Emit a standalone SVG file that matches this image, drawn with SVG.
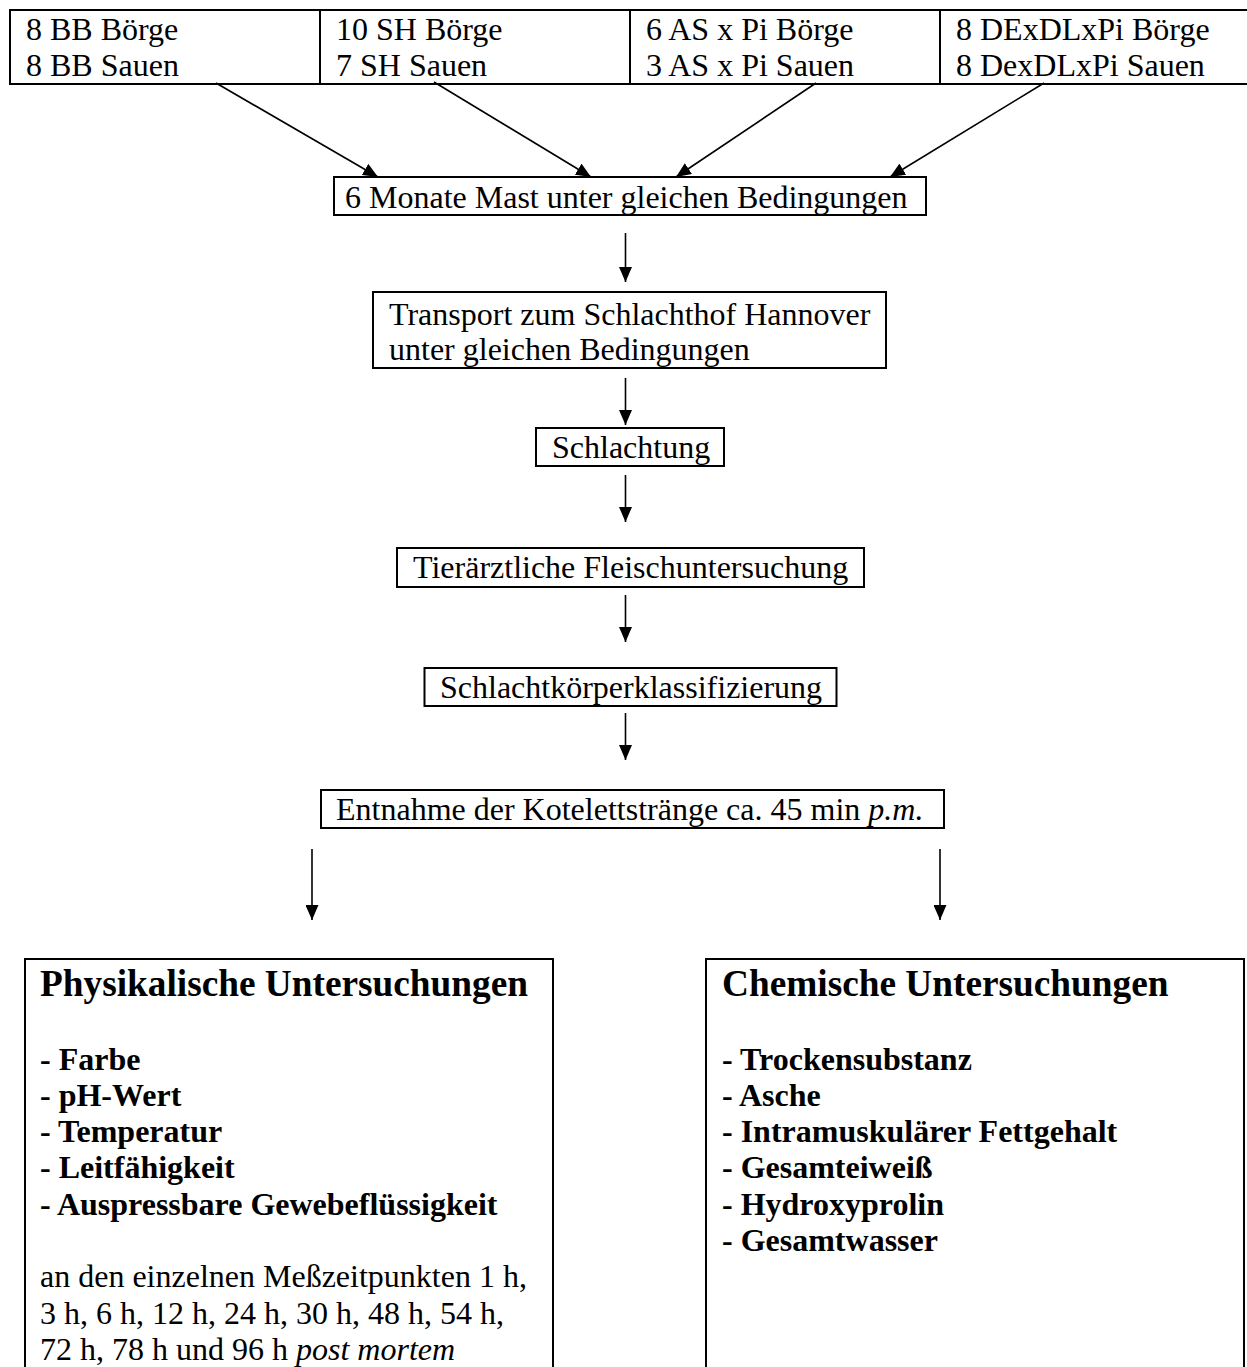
<svg xmlns="http://www.w3.org/2000/svg" width="1247" height="1367" viewBox="0 0 1247 1367">
  <style>
    text { font-family: "Liberation Serif", "Times New Roman", serif; font-size: 32px; fill: #000; }
    .box { fill: #fff; stroke: #000; stroke-width: 2; }
    .b { font-weight: bold; }
    .h { font-weight: bold; font-size: 37.3px; }
    .i { font-style: italic; }
    .conn { stroke: #000; stroke-width: 1.6; fill: none; marker-end: url(#arr); }
  </style>
  <defs>
    <marker id="arr" viewBox="0 0 15 13" refX="15" refY="6.5" markerWidth="15" markerHeight="13" orient="auto" markerUnits="userSpaceOnUse">
      <path d="M0,0 L15,6.5 L0,13 z" fill="#000"/>
    </marker>
  </defs>
  <rect x="0" y="0" width="1247" height="1367" fill="#fff"/>

  <g id="src-bb">
    <rect class="box" x="10" y="10" width="310" height="74"/>
    <text x="26" y="39.5">8 BB Börge</text>
    <text x="26" y="75.5">8 BB Sauen</text>
  </g>
  <g id="src-sh">
    <rect class="box" x="320" y="10" width="310" height="74"/>
    <text x="336" y="39.5">10 SH Börge</text>
    <text x="336" y="75.5">7 SH Sauen</text>
  </g>
  <g id="src-as">
    <rect class="box" x="630" y="10" width="310" height="74"/>
    <text x="646" y="39.5">6 AS x Pi Börge</text>
    <text x="646" y="75.5">3 AS x Pi Sauen</text>
  </g>
  <g id="src-de">
    <rect class="box" x="940" y="10" width="320" height="74"/>
    <text x="956" y="39.5">8 DExDLxPi Börge</text>
    <text x="956" y="75.5">8 DexDLxPi Sauen</text>
  </g>

  <g id="mast">
    <rect class="box" x="334" y="177" width="592" height="38"/>
    <text x="345" y="207.5">6 Monate Mast unter gleichen Bedingungen</text>
  </g>
  <g id="transport">
    <rect class="box" x="373" y="292" width="513" height="76"/>
    <text x="389" y="324.5">Transport zum Schlachthof Hannover</text>
    <text x="389" y="359.5">unter gleichen Bedingungen</text>
  </g>
  <g id="schlachtung">
    <rect class="box" x="536" y="428" width="188" height="38"/>
    <text x="552" y="458">Schlachtung</text>
  </g>
  <g id="fleischuntersuchung">
    <rect class="box" x="397" y="548" width="467" height="39"/>
    <text x="413" y="578">Tierärztliche Fleischuntersuchung</text>
  </g>
  <g id="klassifizierung">
    <rect class="box" x="424.5" y="668" width="412" height="38"/>
    <text x="440" y="698">Schlachtkörperklassifizierung</text>
  </g>
  <g id="entnahme">
    <rect class="box" x="321" y="790" width="623" height="38"/>
    <text x="336" y="819.5">Entnahme der Kotelettstränge ca. 45 min <tspan class="i">p.m.</tspan></text>
  </g>

  <g id="physikalisch">
    <rect class="box" x="25" y="959" width="528" height="440"/>
    <text class="h" x="40" y="996">Physikalische Untersuchungen</text>
    <text class="b" x="40" y="1069.5">- Farbe</text>
    <text class="b" x="40" y="1105.8">- pH-Wert</text>
    <text class="b" x="40" y="1142.1">- Temperatur</text>
    <text class="b" x="40" y="1178.4">- Leitfähigkeit</text>
    <text class="b" x="40" y="1214.7">- Auspressbare Gewebeflüssigkeit</text>
    <text x="40" y="1287.3">an den einzelnen Meßzeitpunkten 1 h,</text>
    <text x="40" y="1323.6">3 h, 6 h, 12 h, 24 h, 30 h, 48 h, 54 h,</text>
    <text x="40" y="1359.5">72 h, 78 h und 96 h <tspan class="i">post mortem</tspan></text>
  </g>
  <g id="chemisch">
    <rect class="box" x="706" y="959" width="538" height="440"/>
    <text class="h" x="722" y="996">Chemische Untersuchungen</text>
    <text class="b" x="722" y="1069.5">- Trockensubstanz</text>
    <text class="b" x="722" y="1105.8">- Asche</text>
    <text class="b" x="722" y="1142.1">- Intramuskulärer Fettgehalt</text>
    <text class="b" x="722" y="1178.4">- Gesamteiweiß</text>
    <text class="b" x="722" y="1214.7">- Hydroxyprolin</text>
    <text class="b" x="722" y="1251">- Gesamtwasser</text>
  </g>

  <g id="connectors">
    <line class="conn" x1="216" y1="83" x2="378" y2="177"/>
    <line class="conn" x1="434" y1="82" x2="591" y2="177"/>
    <line class="conn" x1="816" y1="83" x2="676" y2="177"/>
    <line class="conn" x1="1044" y1="83" x2="890" y2="177"/>
    <line class="conn" x1="625.5" y1="233" x2="625.5" y2="282"/>
    <line class="conn" x1="625.5" y1="378" x2="625.5" y2="425"/>
    <line class="conn" x1="625.5" y1="475" x2="625.5" y2="522"/>
    <line class="conn" x1="625.5" y1="595" x2="625.5" y2="642"/>
    <line class="conn" x1="625.5" y1="713" x2="625.5" y2="760"/>
    <line class="conn" x1="312" y1="849" x2="312" y2="920"/>
    <line class="conn" x1="940" y1="849" x2="940" y2="920"/>
  </g>
</svg>
